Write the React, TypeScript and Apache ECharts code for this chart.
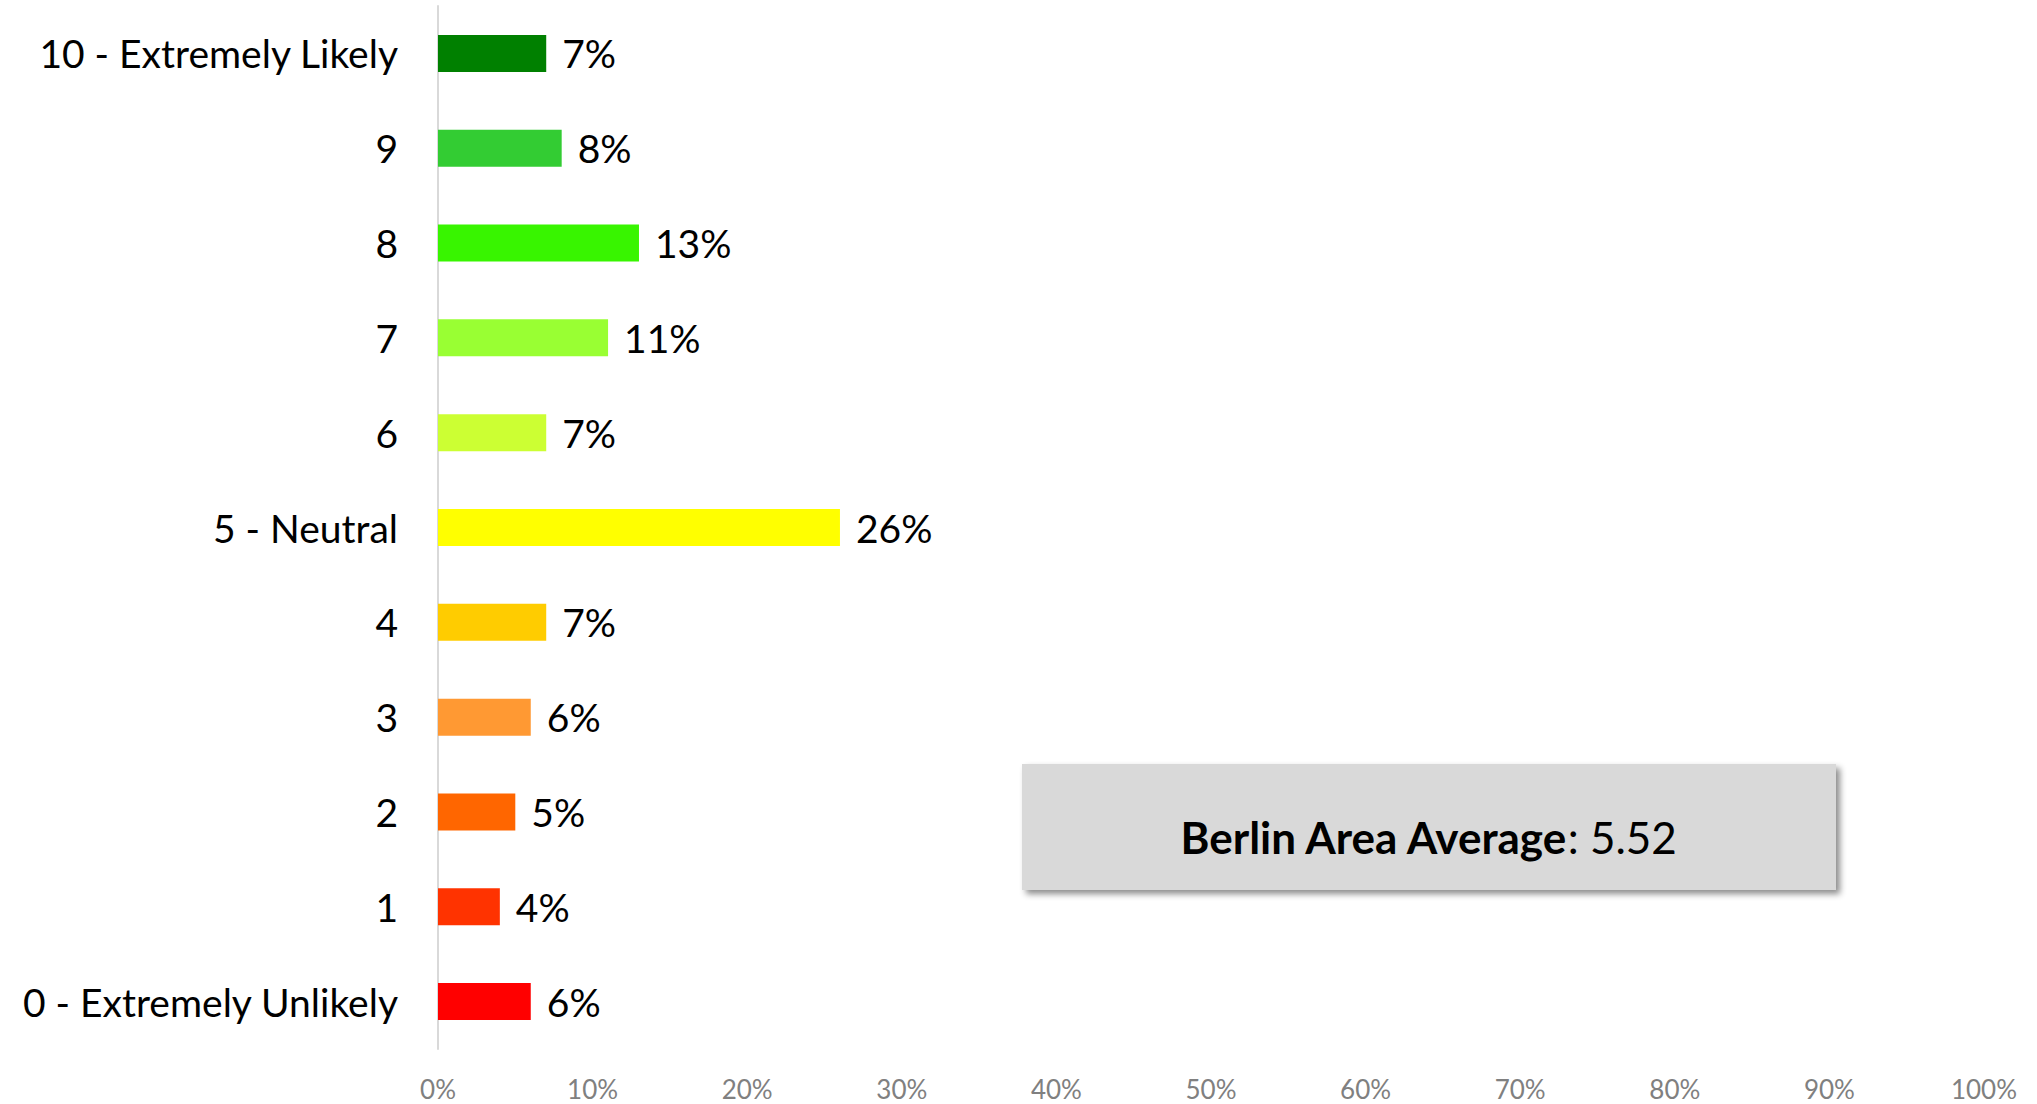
import React, { useEffect, useRef } from "react";
import * as echarts from "echarts";

const categories = [
  "10 - Extremely Likely",
  "9",
  "8",
  "7",
  "6",
  "5 - Neutral",
  "4",
  "3",
  "2",
  "1",
  "0 - Extremely Unlikely",
];
const values = [7, 8, 13, 11, 7, 26, 7, 6, 5, 4, 6];
const barColors = [
  "#008000",
  "#33cc33",
  "#38f500",
  "#99ff33",
  "#ccff33",
  "#ffff00",
  "#ffcc00",
  "#ff9933",
  "#ff6600",
  "#ff3300",
  "#ff0000",
];
const xTicks = { min: 0, max: 100, interval: 10 };
const boxLabel = "Berlin Area Average";
const boxValue = "5.52";

const FONT = "Lato";

export default function App() {
  const ref = useRef<HTMLDivElement>(null);
  useEffect(() => {
    document.body.style.margin = "0";
    const chart = echarts.init(ref.current!, null, { renderer: "svg" });
    chart.setOption({
      animation: false,
      backgroundColor: "#ffffff",
      textStyle: { fontFamily: FONT },
      grid: { left: 438, right: 53, top: 6, bottom: 55, containLabel: false },
      xAxis: {
        type: "value",
        min: xTicks.min,
        max: xTicks.max,
        interval: xTicks.interval,
        axisLine: { show: false },
        axisTick: { show: false },
        splitLine: { show: false },
        axisLabel: {
          formatter: "{value}%",
          color: "#808080",
          fontSize: 26,
          fontFamily: FONT,
          margin: 27,
        },
      },
      yAxis: {
        type: "category",
        inverse: true,
        data: categories,
        axisLine: { show: true, lineStyle: { color: "#d9d9d9", width: 2 } },
        axisTick: { show: false },
        axisLabel: {
          color: "#000000",
          fontSize: 39,
          fontFamily: FONT,
          margin: 40,
        },
      },
      series: [
        {
          type: "bar",
          barWidth: 37,
          data: values.map((v, i) => ({
            value: v,
            itemStyle: { color: barColors[i] },
          })),
          label: {
            show: true,
            position: "right",
            distance: 16,
            formatter: "{c}%",
            color: "#000000",
            fontSize: 39,
            fontFamily: FONT,
          },
        },
      ],
      graphic: [
        {
          type: "rect",
          shape: { x: 1022, y: 764, width: 814, height: 126 },
          style: {
            fill: "#d9d9d9",
            shadowBlur: 6,
            shadowOffsetX: 4,
            shadowOffsetY: 4,
            shadowColor: "rgba(0,0,0,0.45)",
          },
        },
        {
          type: "text",
          x: 1428,
          y: 837,
          style: {
            text: `{b|${boxLabel}}{n|: ${boxValue}}`,
            align: "center",
            verticalAlign: "middle",
            rich: {
              b: { fontSize: 44, fontWeight: "bold", fontFamily: FONT, fill: "#000" },
              n: { fontSize: 44, fontFamily: FONT, fill: "#000" },
            },
          },
        },
      ],
    });
    return () => chart.dispose();
  }, []);
  return (
    <div
      ref={ref}
      style={{ position: "fixed", left: 0, top: 0, width: 2037, height: 1104 }}
    />
  );
}
